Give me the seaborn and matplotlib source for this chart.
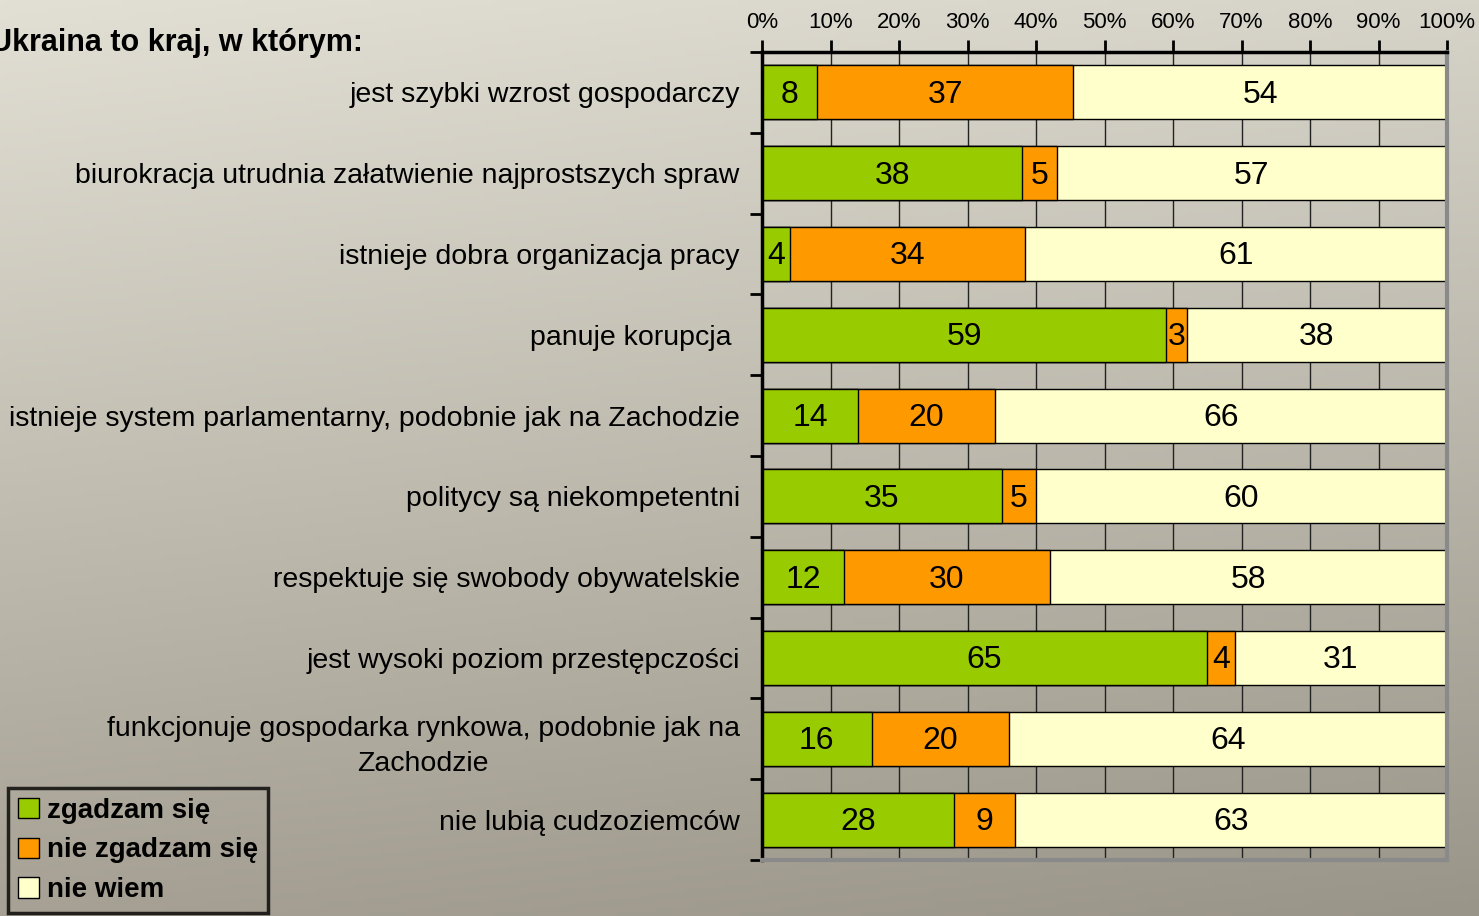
import numpy as np
import pandas as pd
import matplotlib
matplotlib.use("Agg")
import matplotlib.pyplot as plt
from matplotlib.patches import Patch
import seaborn as sns

# Data
categories = [
    "jest szybki wzrost gospodarczy",
    "biurokracja utrudnia załatwienie najprostszych spraw",
    "istnieje dobra organizacja pracy",
    "panuje korupcja ",
    "istnieje system parlamentarny, podobnie jak na Zachodzie",
    "politycy są niekompetentni",
    "respektuje się swobody obywatelskie",
    "jest wysoki poziom przestępczości",
    "funkcjonuje gospodarka rynkowa, podobnie jak na\nZachodzie",
    "nie lubią cudzoziemców",
]
agree = [8, 38, 4, 59, 14, 35, 12, 65, 16, 28]
disagree = [37, 5, 34, 3, 20, 5, 30, 4, 20, 9]
dont_know = [54, 57, 61, 38, 66, 60, 58, 31, 64, 63]
series_names = ["zgadzam się", "nie zgadzam się", "nie wiem"]
xtick_labels = [f"{v}%" for v in range(0, 101, 10)]

colors = ["#99cc00", "#ff9900", "#ffffcc"]

# 100% stacked: normalise each row
df = pd.DataFrame({"cat": categories, "agree": agree,
                   "disagree": disagree, "dont_know": dont_know})
total = df[["agree", "disagree", "dont_know"]].sum(axis=1)
df["p_agree"] = df["agree"] / total * 100
df["p_dis"] = df["disagree"] / total * 100
df["p_dk"] = df["dont_know"] / total * 100
df["cum1"] = df["p_agree"]
df["cum2"] = df["p_agree"] + df["p_dis"]
df["cum3"] = df["cum2"] + df["p_dk"]

sns.set_style("white")
plt.rcParams["font.family"] = ["Liberation Sans", "DejaVu Sans"]
plt.rcParams["text.color"] = "black"
plt.rcParams["xtick.color"] = "black"
plt.rcParams["ytick.color"] = "black"

W, H = 1479, 916
fig = plt.figure(figsize=(W / 100, H / 100), dpi=100)

# gradient background
bg = fig.add_axes([0, 0, 1, 1], zorder=-10)
tl = np.array([226, 223, 212]) / 255
tr = np.array([214, 211, 200]) / 255
bl = np.array([166, 161, 148]) / 255
br = np.array([154, 149, 137]) / 255
yy, xx = np.mgrid[0:1:200j, 0:1:300j]
grad = (tl * ((1 - xx) * (1 - yy))[..., None] + tr * (xx * (1 - yy))[..., None]
        + bl * ((1 - xx) * yy)[..., None] + br * (xx * yy)[..., None])
bg.imshow(grad, aspect="auto", extent=[0, 1, 0, 1])
bg.axis("off")

ax = fig.add_axes([762 / W, 1 - 860 / H, 685 / W, 808 / H])
ax.set_facecolor("none")

# overlapping cumulative bars give the stacked look
sns.barplot(data=df, x="cum3", y="cat", color=colors[2], width=0.67,
            edgecolor="black", linewidth=1, saturation=1, ax=ax)
sns.barplot(data=df, x="cum2", y="cat", color=colors[1], width=0.67,
            edgecolor="black", linewidth=1, saturation=1, ax=ax)
sns.barplot(data=df, x="cum1", y="cat", color=colors[0], width=0.67,
            edgecolor="black", linewidth=1, saturation=1, ax=ax)

# value labels centred in each segment
for i, row in df.iterrows():
    starts = [0, row["cum1"], row["cum2"]]
    widths = [row["p_agree"], row["p_dis"], row["p_dk"]]
    vals = [row["agree"], row["disagree"], row["dont_know"]]
    for s, w, v in zip(starts, widths, vals):
        ax.text(s + w / 2, i + 0.03, str(v), ha="center", va="center",
                fontsize=23, color="black")

ax.set_xlim(0, 100)
ax.set_ylim(len(categories) - 0.5, -0.5)
ax.set_xlabel("")
ax.set_ylabel("")

# x axis on top
ax.xaxis.tick_top()
ax.set_xticks(range(0, 101, 10))
ax.set_xticklabels(xtick_labels, fontsize=16)
ax.tick_params(axis="x", direction="out", length=9, width=2, pad=5,
               color="black")

# category labels + boundary ticks
ax.set_yticks(range(len(categories)))
ax.set_yticklabels(categories, fontsize=20.5)
for lab in ax.get_yticklabels():
    lab.set_multialignment("center")
    lab.set_linespacing(1.45)
ax.tick_params(axis="y", which="major", length=0, pad=16)
ax.set_yticks(np.arange(-0.5, len(categories), 1), minor=True)
ax.tick_params(axis="y", which="minor", direction="out", length=9, width=2,
               color="black", left=True)

ax.grid(axis="x", color="#222222", linewidth=1)
ax.set_axisbelow(True)

for side in ["top", "left"]:
    ax.spines[side].set_visible(True)
    ax.spines[side].set_color("black")
    ax.spines[side].set_linewidth(2.5)
for side in ["right", "bottom"]:
    ax.spines[side].set_visible(True)
    ax.spines[side].set_color("#8a8a8a")
    ax.spines[side].set_linewidth(3)

fig.text(-0.007, 1 - 43 / H, "Ukraina to kraj, w którym:", fontsize=22,
         fontweight="bold", ha="left", va="center")

handles = [Patch(facecolor=c, edgecolor="black", linewidth=1) for c in colors]
leg = fig.legend(handles, series_names, loc="lower left",
                 bbox_to_anchor=(8 / W, 3 / H), borderaxespad=0,
                 frameon=True, fancybox=False, handlelength=0.75,
                 handleheight=0.75, handletextpad=0.3, labelspacing=0.5,
                 borderpad=0.35, prop={"size": 20, "weight": "bold"})
leg.get_frame().set_facecolor("none")
leg.get_frame().set_edgecolor("black")
leg.get_frame().set_linewidth(2.5)

fig.savefig("out.png", dpi=100)
